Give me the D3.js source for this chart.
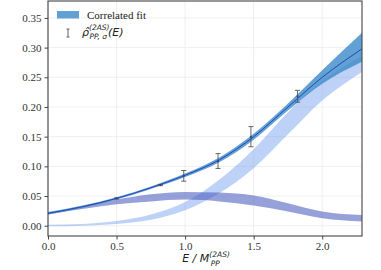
<!DOCTYPE html>
<html>
<head>
<meta charset="utf-8">
<script src="https://cdn.jsdelivr.net/npm/d3@7"></script>
<style>
  body { margin: 0; background: #fff; }
  svg { display: block; }
</style>
</head>
<body>
<svg id="chart" width="381" height="270"></svg>
<script>
var energies = [0, 0.25, 0.5, 0.75, 1.0, 1.25, 1.5, 1.75, 2.0, 2.29];

// correlated fit: centre line and band
var fitMid = [0.021, 0.032, 0.046, 0.064, 0.085, 0.111, 0.150, 0.200, 0.250, 0.298];
var fitHi  = [0.023, 0.034, 0.048, 0.066, 0.088, 0.115, 0.155, 0.206, 0.262, 0.325];
var fitLo  = [0.019, 0.030, 0.044, 0.062, 0.082, 0.107, 0.145, 0.194, 0.239, 0.276];

// light blue band (rising component)
var lightHi = [0.0015, 0.003, 0.008, 0.019, 0.040, 0.078, 0.129, 0.191, 0.244, 0.286];
var lightLo = [-0.001, 0.000, 0.003, 0.010, 0.026, 0.055, 0.097, 0.154, 0.211, 0.259];

// purple band (peaked component)
var purpleHi = [0.021, 0.032, 0.044, 0.053, 0.057, 0.056, 0.051, 0.038, 0.024, 0.018];
var purpleLo = [0.019, 0.028, 0.036, 0.041, 0.044, 0.041, 0.034, 0.024, 0.0125, 0.007];

// smeared spectral density points
var pointE   = [0.5, 0.82, 0.99, 1.24, 1.48, 1.82];
var pointRho = [0.046, 0.0685, 0.084, 0.109, 0.150, 0.218];
var pointErr = [0.001, 0.001, 0.009, 0.0125, 0.017, 0.010];

var xTicks = [0, 0.5, 1.0, 1.5, 2.0];
var yTicks = [0, 0.05, 0.10, 0.15, 0.20, 0.25, 0.30, 0.35];

var width = 381, height = 270;
var margin = {top: 1, right: 19, bottom: 34, left: 48};

var svg = d3.select("#chart");

var x = d3.scaleLinear().domain([0, 2.29]).range([margin.left, width - margin.right]);
var y = d3.scaleLinear().domain([-0.0173, 0.3785]).range([height - margin.bottom, margin.top]);

// grid
svg.append("g")
    .selectAll("line")
    .data(xTicks)
    .join("line")
    .attr("x1", d => x(d)).attr("x2", d => x(d))
    .attr("y1", margin.top).attr("y2", height - margin.bottom)
    .attr("stroke", "#ebebeb").attr("stroke-width", 0.8);
svg.append("g")
    .selectAll("line")
    .data(yTicks)
    .join("line")
    .attr("y1", d => y(d)).attr("y2", d => y(d))
    .attr("x1", margin.left).attr("x2", width - margin.right)
    .attr("stroke", "#ebebeb").attr("stroke-width", 0.8);

var plot = svg.append("g");

function band(hi, lo) {
    return d3.area()
        .x((d, i) => x(energies[i]))
        .y0((d, i) => y(lo[i]))
        .y1((d, i) => y(hi[i]))
        .curve(d3.curveMonotoneX)(energies);
}

plot.append("path")
    .attr("d", band(lightHi, lightLo))
    .attr("fill", "#6f9cf0").attr("fill-opacity", 0.45);

plot.append("path")
    .attr("d", band(purpleHi, purpleLo))
    .attr("fill", "#4a5cbd").attr("fill-opacity", 0.58);

plot.append("path")
    .attr("d", band(fitHi, fitLo))
    .attr("fill", "#3f8cc9").attr("fill-opacity", 0.82);

plot.append("path")
    .attr("d", d3.line()
        .x((d, i) => x(energies[i]))
        .y((d, i) => y(fitMid[i]))
        .curve(d3.curveMonotoneX)(energies))
    .attr("fill", "none").attr("stroke", "#2546b8").attr("stroke-width", 1);

// error bars
var cap = 2.5;
var bars = plot.append("g").attr("stroke", "#555").attr("stroke-width", 0.9);
pointE.forEach(function(e, i) {
    var px = x(e), top = y(pointRho[i] + pointErr[i]), bot = y(pointRho[i] - pointErr[i]);
    bars.append("line").attr("x1", px).attr("x2", px).attr("y1", top).attr("y2", bot);
    bars.append("line").attr("x1", px - cap).attr("x2", px + cap).attr("y1", top).attr("y2", top);
    bars.append("line").attr("x1", px - cap).attr("x2", px + cap).attr("y1", bot).attr("y2", bot);
});
plot.append("g")
    .selectAll("circle")
    .data(pointE)
    .join("circle")
    .attr("cx", d => x(d))
    .attr("cy", (d, i) => y(pointRho[i]))
    .attr("r", 1)
    .attr("fill", "#2a3f8f");

// axes
var xAxis = svg.append("g")
    .attr("transform", "translate(0," + (height - margin.bottom) + ")")
    .call(d3.axisBottom(x).tickValues(xTicks).tickFormat(d3.format(".1f")).tickSize(3.5).tickPadding(3));
var yAxis = svg.append("g")
    .attr("transform", "translate(" + margin.left + ",0)")
    .call(d3.axisLeft(y).tickValues(yTicks).tickFormat(d3.format(".2f")).tickSize(3.5).tickPadding(3));
[xAxis, yAxis].forEach(function(a) {
    a.select(".domain").remove();
    a.attr("font-family", "Liberation Serif").attr("font-size", 11);
    a.selectAll(".tick line").attr("stroke", "#444");
    a.selectAll(".tick text")
        .attr("font-family", "Liberation Serif")
        .style("font-family", "'Liberation Serif', 'DejaVu Serif', serif")
        .style("font-size", "11px")
        .attr("fill", "#333");
});

// frame
svg.append("rect")
    .attr("x", margin.left).attr("y", margin.top)
    .attr("width", width - margin.left - margin.right)
    .attr("height", height - margin.top - margin.bottom)
    .attr("fill", "none").attr("stroke", "#444").attr("stroke-width", 1.1);

// x label
var xl = svg.append("text")
    .attr("x", 206).attr("y", 262)
    .attr("text-anchor", "middle")
    .style("font-family", "'DejaVu Sans', sans-serif")
    .style("font-size", "11px")
    .style("font-style", "italic")
    .attr("fill", "#222");
xl.append("tspan").text("E / M");
xl.append("tspan").attr("dy", -5).style("font-size", "7.5px").text("(2AS)");
xl.append("tspan").attr("dx", -19).attr("dy", 9).style("font-size", "7.5px").text("PP");

// legend
var legend = svg.append("g");
legend.append("rect")
    .attr("x", 57).attr("y", 11).attr("width", 22).attr("height", 7.5)
    .attr("fill", "#3f8cc9").attr("fill-opacity", 0.82);
legend.append("text")
    .attr("x", 87).attr("y", 18.5)
    .style("font-family", "'Liberation Serif', serif")
    .style("font-size", "11px")
    .attr("fill", "#222")
    .text("Correlated fit");

var lg = legend.append("g").attr("stroke", "#555").attr("stroke-width", 0.9);
lg.append("line").attr("x1", 68).attr("x2", 68).attr("y1", 29).attr("y2", 37);
lg.append("line").attr("x1", 66.5).attr("x2", 69.5).attr("y1", 29).attr("y2", 29);
lg.append("line").attr("x1", 66.5).attr("x2", 69.5).attr("y1", 37).attr("y2", 37);

var lt = legend.append("text")
    .attr("x", 82).attr("y", 36)
    .style("font-family", "'DejaVu Sans', sans-serif")
    .style("font-size", "11px")
    .style("font-style", "italic")
    .attr("fill", "#222");
lt.append("tspan").text("\u03c1\u0302");
lt.append("tspan").attr("dy", -6).style("font-size", "7.5px").text("(2AS)");
lt.append("tspan").attr("dx", -20).attr("dy", 9).style("font-size", "7.5px").text("PP, \u03c3");
lt.append("tspan").attr("dx", 1).attr("dy", -3).text("(E)");
</script>
</body>
</html>
